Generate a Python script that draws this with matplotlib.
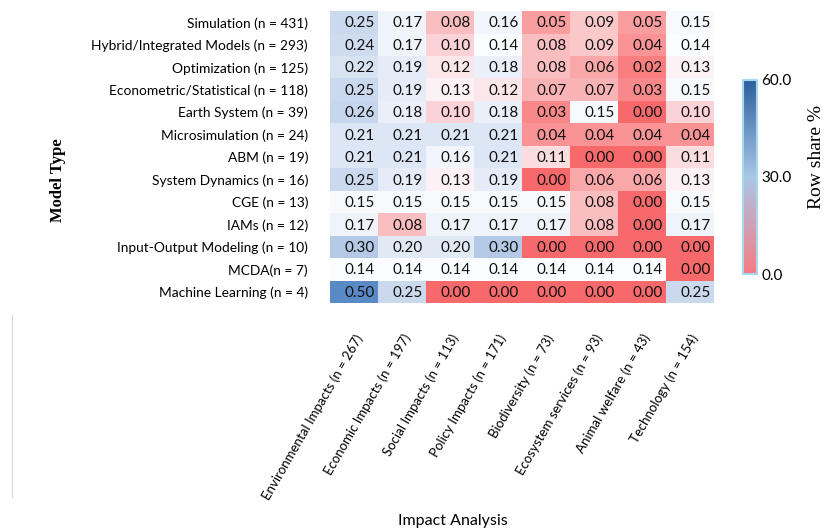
import matplotlib
matplotlib.use("Agg")
import matplotlib.pyplot as plt
import numpy as np
from matplotlib.colors import LinearSegmentedColormap, TwoSlopeNorm, Normalize
from matplotlib.lines import Line2D

model_types = [
    "Simulation (n = 431)",
    "Hybrid/Integrated Models (n = 293)",
    "Optimization (n = 125)",
    "Econometric/Statistical (n = 118)",
    "Earth System (n = 39)",
    "Microsimulation (n = 24)",
    "ABM (n = 19)",
    "System Dynamics (n = 16)",
    "CGE (n = 13)",
    "IAMs (n = 12)",
    "Input-Output Modeling (n = 10)",
    "MCDA(n = 7)",
    "Machine Learning (n = 4)",
]

impacts = [
    "Environmental Impacts (n = 267)",
    "Economic Impacts (n = 197)",
    "Social Impacts (n = 113)",
    "Policy Impacts (n = 171)",
    "Biodiversity (n = 73)",
    "Ecosystem services (n = 93)",
    "Animal welfare (n = 43)",
    "Technology (n = 154)",
]

shares = np.array([
    [0.25, 0.17, 0.08, 0.16, 0.05, 0.09, 0.05, 0.15],
    [0.24, 0.17, 0.10, 0.14, 0.08, 0.09, 0.04, 0.14],
    [0.22, 0.19, 0.12, 0.18, 0.08, 0.06, 0.02, 0.13],
    [0.25, 0.19, 0.13, 0.12, 0.07, 0.07, 0.03, 0.15],
    [0.26, 0.18, 0.10, 0.18, 0.03, 0.15, 0.00, 0.10],
    [0.21, 0.21, 0.21, 0.21, 0.04, 0.04, 0.04, 0.04],
    [0.21, 0.21, 0.16, 0.21, 0.11, 0.00, 0.00, 0.11],
    [0.25, 0.19, 0.13, 0.19, 0.00, 0.06, 0.06, 0.13],
    [0.15, 0.15, 0.15, 0.15, 0.15, 0.08, 0.00, 0.15],
    [0.17, 0.08, 0.17, 0.17, 0.17, 0.08, 0.00, 0.17],
    [0.30, 0.20, 0.20, 0.30, 0.00, 0.00, 0.00, 0.00],
    [0.14, 0.14, 0.14, 0.14, 0.14, 0.14, 0.14, 0.00],
    [0.50, 0.25, 0.00, 0.00, 0.00, 0.00, 0.00, 0.25],
])

# Excel-style 3-colour scale: red -> near white (median) -> blue
cell_cmap = LinearSegmentedColormap.from_list(
    "excel", ["#F8696B", "#FCFCFF", "#5A8AC6"])
cell_norm = TwoSlopeNorm(vmin=shares.min(), vcenter=np.median(shares),
                         vmax=shares.max())

# the colour bar in the figure uses a plain red -> light blue -> dark blue ramp
bar_cmap = LinearSegmentedColormap.from_list(
    "bar", ["#F87A80", "#A9C6E6", "#2C5F9C"])

fig = plt.figure(figsize=(8.24, 5.29), dpi=100)
ax = fig.add_axes([0.4005, 0.4272, 0.466, 0.5518])

ax.pcolormesh(shares, cmap=cell_cmap, norm=cell_norm)
ax.set_xlim(0, shares.shape[1])
ax.set_ylim(shares.shape[0], 0)

for i in range(shares.shape[0]):
    for j in range(shares.shape[1]):
        ax.text(j + 0.93, i + 0.55, f"{shares[i, j]:.2f}", ha="right",
                va="center", fontsize=11, family="Lato", color="#111111")

ax.set_xticks(np.arange(shares.shape[1]) + 0.5)
ax.set_yticks(np.arange(shares.shape[0]) + 0.5)
ax.set_xticklabels(impacts, rotation=60, ha="right", rotation_mode="anchor",
                   fontsize=9.5, family="Lato")
ax.set_yticklabels(model_types, fontsize=9.9, family="Lato")
ax.tick_params(length=0)
ax.tick_params(axis="y", pad=15.8)
ax.tick_params(axis="x", pad=21)
for s in ax.spines.values():
    s.set_visible(False)

# colour bar
cax = fig.add_axes([0.9017, 0.482, 0.017, 0.367])
sm = plt.cm.ScalarMappable(cmap=bar_cmap, norm=Normalize(0, 60))
cb = fig.colorbar(sm, cax=cax, ticks=[0, 30, 60])
cb.ax.set_yticklabels(["0.0", "30.0", "60.0"], fontsize=11, family="Lato")
cb.ax.tick_params(length=0, pad=3)
cb.outline.set_edgecolor("#A6D8F0")
cb.outline.set_linewidth(1.5)

fig.text(0.991, 0.703, "Row share %", rotation=90, va="center", ha="center",
         fontsize=14, family="Liberation Serif")
fig.text(0.07, 0.66, "Model Type", rotation=90, va="center", ha="center",
         fontsize=12, family="Liberation Serif", fontweight="bold")
fig.text(0.55, 0.015, "Impact Analysis", ha="center", va="center",
         fontsize=11.5, family="Lato")

# faint rule on the left edge
fig.add_artist(Line2D([0.0145, 0.0145], [0.06, 0.405], color="#d9d9d9",
                      linewidth=0.8, transform=fig.transFigure))

fig.savefig("out.png", dpi=100)
